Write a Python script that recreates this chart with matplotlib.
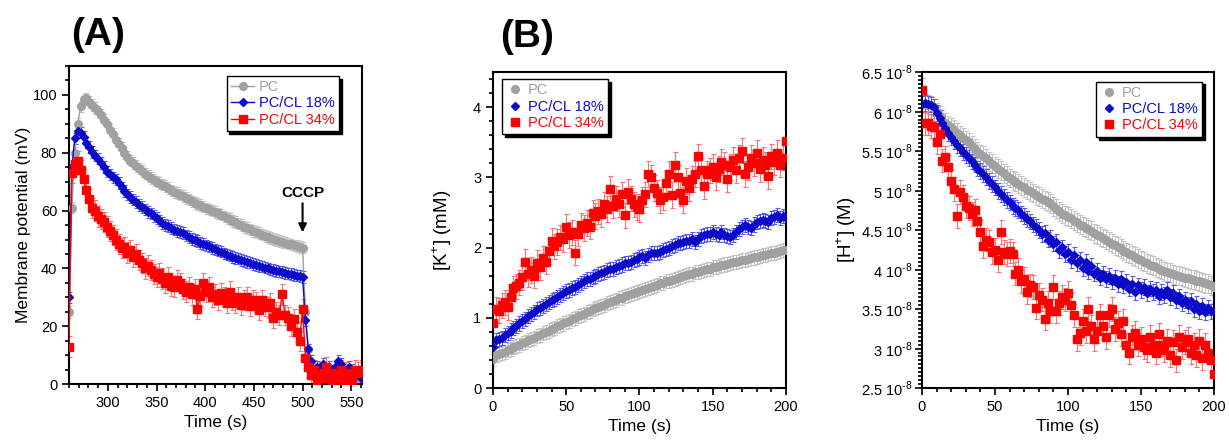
import numpy as np
import matplotlib
matplotlib.use("Agg")
from matplotlib import pyplot as plt
from matplotlib.ticker import MultipleLocator, FuncFormatter

plt.rcParams['font.family'] = ['Liberation Sans', 'DejaVu Sans']
plt.rcParams['mathtext.fontset'] = 'custom'
plt.rcParams['mathtext.rm'] = 'Liberation Sans'

# ---- Panel A: membrane potential (mV), sampled every 3 s from 260 to 560 s
time_a = np.arange(260, 561, 3)
mp_pc = [25, 61, 80, 90, 96, 98.5, 98.8, 97.5, 96.5, 95.5,
         94.3, 93, 91.5, 89.8, 88, 86.5, 84.5, 83, 81.6, 80,
         78.5, 77.3, 76.4, 75.5, 74.6, 73.6, 72.8, 72, 71.2, 70.6,
         70, 69.6, 69, 68.5, 67.8, 67, 66.5, 66, 65.5, 65,
         64.4, 63.9, 63.2, 62.7, 62.2, 61.9, 61.4, 60.8, 60.4, 60,
         59.5, 59, 58.6, 58, 57.5, 57, 56.5, 56, 55.5, 55,
         54.4, 54, 53.5, 53, 52.6, 52.2, 51.7, 51.3, 50.9, 50.6,
         50.2, 49.8, 49.5, 49.2, 48.9, 48.6, 48.3, 48, 47.8, 47.5,
         47.2, 25, 12, 7, 4, 3, 2, 4, 3, 2,
         1, 3, 4, 2, 1, 3, 2, 4, 2, 3, 2]
mp_cl18 = [30, 75, 85, 87.5, 87, 85.5, 83.5, 82, 80.3, 79,
           78, 76.5, 75, 73.5, 72.5, 71.5, 70.8, 69.5, 68, 66.8,
           65.6, 64.7, 63.8, 63, 62, 61.2, 60.4, 59.6, 59, 58.2,
           57.4, 56.6, 55.8, 55, 54.6, 54, 53.4, 53, 52.6, 52.2,
           51.4, 50.8, 50.2, 49.8, 49.4, 48.8, 48.4, 48, 47.6, 47,
           46.6, 46.2, 45.8, 45.2, 44.8, 44.4, 44, 43.7, 43.4, 43,
           42.6, 42.3, 42, 41.6, 41.2, 40.9, 40.6, 40.3, 40, 39.7,
           39.5, 39.2, 39, 38.8, 38.5, 38.2, 38, 37.8, 37.5, 37.3,
           37, 22, 12, 8, 5, 6, 4, 7, 5, 6,
           4, 6, 8, 7, 5, 3, 6, 5, 4, 3, 2]
mp_cl34 = [13, 73, 76, 77, 74, 71, 67, 64, 61, 60,
           58, 57, 56, 54.5, 53, 51.5, 50, 48.5, 47, 47.5,
           45.5, 46.5, 44, 45, 43, 42, 40, 41, 39.5, 38,
           37, 38.5, 36.5, 35, 37, 34, 33.5, 36, 35, 33,
           32, 33.5, 31, 33, 26, 30.5, 35, 32, 33.5, 30,
           31, 29, 31.5, 30, 28, 32, 29, 28, 30, 27.5,
           29, 30, 27, 29, 28.5, 25.5, 29, 27, 26.5, 28,
           23, 25, 24, 31, 24, 23, 20, 22.5, 18, 15,
           26, 9, 6, 3, 5, 1, 4, 2, 6, 3,
           1, 4, 2, 5, 1, 4, 3, 1, 5, 4, 5]
err_a = {'pc': 2.0, 'cl18': 2.0, 'cl34': 3.5}

# ---- Panels B and C: sampled every 2 s from 0 to 200 s
time_bc = np.arange(0, 201, 2)
k_pc = [0.42, 0.47, 0.49, 0.50, 0.52, 0.54, 0.56, 0.58, 0.60, 0.62,
        0.64, 0.66, 0.68, 0.70, 0.72, 0.74, 0.76, 0.78, 0.80, 0.82,
        0.84, 0.86, 0.88, 0.90, 0.92, 0.94, 0.96, 0.98, 1.00, 1.02,
        1.04, 1.06, 1.08, 1.10, 1.12, 1.14, 1.15, 1.17, 1.19, 1.21,
        1.23, 1.24, 1.26, 1.28, 1.29, 1.31, 1.32, 1.34, 1.35, 1.37,
        1.38, 1.40, 1.41, 1.43, 1.44, 1.46, 1.47, 1.49, 1.50, 1.52,
        1.53, 1.54, 1.56, 1.57, 1.58, 1.60, 1.61, 1.62, 1.63, 1.65,
        1.66, 1.67, 1.68, 1.69, 1.70, 1.72, 1.73, 1.74, 1.75, 1.76,
        1.77, 1.78, 1.79, 1.80, 1.81, 1.82, 1.83, 1.84, 1.85, 1.86,
        1.87, 1.88, 1.89, 1.90, 1.91, 1.92, 1.93, 1.94, 1.95, 1.96, 1.97]
k_cl18 = [0.58, 0.68, 0.70, 0.72, 0.75, 0.78, 0.82, 0.85, 0.88, 0.92,
          0.95, 0.98, 1.02, 1.05, 1.08, 1.12, 1.14, 1.17, 1.20, 1.22,
          1.25, 1.27, 1.30, 1.32, 1.35, 1.38, 1.40, 1.42, 1.44, 1.47,
          1.49, 1.52, 1.55, 1.56, 1.58, 1.60, 1.62, 1.64, 1.66, 1.68,
          1.69, 1.70, 1.72, 1.74, 1.76, 1.78, 1.78, 1.80, 1.82, 1.84,
          1.86, 1.88, 1.85, 1.90, 1.92, 1.93, 1.92, 1.94, 1.96, 1.98,
          2.00, 2.02, 2.04, 2.06, 2.07, 2.08, 2.10, 2.10, 2.12, 2.08,
          2.12, 2.16, 2.18, 2.20, 2.20, 2.22, 2.20, 2.18, 2.22, 2.18,
          2.16, 2.15, 2.18, 2.22, 2.26, 2.30, 2.32, 2.30, 2.28, 2.33,
          2.36, 2.38, 2.40, 2.38, 2.36, 2.42, 2.44, 2.46, 2.42, 2.45, 2.42]
k_cl34 = [0.92, 1.12, 1.10, 1.18, 1.22, 1.15, 1.30, 1.42, 1.45, 1.50,
          1.58, 1.80, 1.62, 1.68, 1.60, 1.78, 1.72, 1.85, 1.80, 1.95,
          2.10, 2.02, 2.08, 2.15, 2.12, 2.30, 2.18, 2.22, 1.93, 2.20,
          2.32, 2.28, 2.35, 2.30, 2.50, 2.45, 2.52, 2.48, 2.62, 2.55,
          2.84, 2.60, 2.70, 2.62, 2.76, 2.46, 2.80, 2.70, 2.62, 2.58,
          2.55, 2.68, 2.76, 3.05, 3.00, 2.85, 2.78, 2.68, 2.72, 2.92,
          3.05, 2.75, 3.18, 3.00, 2.78, 2.68, 2.95, 2.85, 2.98, 3.05,
          3.30, 3.10, 2.88, 3.05, 3.10, 3.15, 3.00, 3.12, 3.22, 3.18,
          2.98, 3.15, 3.25, 3.10, 3.28, 3.38, 3.05, 3.15, 3.28, 3.20,
          3.35, 3.12, 3.25, 3.18, 3.02, 3.30, 3.22, 3.35, 3.18, 3.28, 3.52]
err_b = {'pc': 0.10, 'cl18': 0.10, 'cl34': 0.18}

# [H+] in units of 1e-8 M
h_pc = [6.10, 6.10, 6.09, 6.08, 6.04, 5.99, 5.95, 5.90, 5.86, 5.83,
        5.80, 5.77, 5.73, 5.70, 5.67, 5.64, 5.61, 5.57, 5.53, 5.49,
        5.46, 5.44, 5.41, 5.37, 5.34, 5.31, 5.28, 5.25, 5.22, 5.19,
        5.16, 5.13, 5.11, 5.09, 5.06, 5.04, 5.01, 4.99, 4.97, 4.94,
        4.92, 4.90, 4.88, 4.86, 4.84, 4.80, 4.77, 4.74, 4.71, 4.69,
        4.67, 4.65, 4.62, 4.60, 4.57, 4.55, 4.53, 4.51, 4.49, 4.46,
        4.44, 4.42, 4.40, 4.38, 4.35, 4.33, 4.31, 4.29, 4.27, 4.24,
        4.22, 4.20, 4.18, 4.16, 4.14, 4.12, 4.10, 4.08, 4.06, 4.05,
        4.03, 4.01, 4.00, 3.98, 3.97, 3.96, 3.94, 3.93, 3.92, 3.91,
        3.90, 3.89, 3.88, 3.87, 3.86, 3.85, 3.84, 3.83, 3.82, 3.80, 3.78]
h_cl18 = [6.10, 6.11, 6.10, 6.09, 6.06, 5.98, 5.92, 5.85, 5.79, 5.73,
          5.68, 5.63, 5.58, 5.54, 5.49, 5.45, 5.41, 5.37, 5.33, 5.28,
          5.25, 5.21, 5.17, 5.12, 5.08, 5.04, 5.00, 4.96, 4.92, 4.88,
          4.85, 4.81, 4.78, 4.75, 4.71, 4.68, 4.64, 4.61, 4.57, 4.54,
          4.50, 4.45, 4.46, 4.38, 4.40, 4.33, 4.35, 4.25, 4.28, 4.20,
          4.22, 4.12, 4.18, 4.08, 4.12, 4.02, 4.10, 3.98, 4.05, 3.95,
          3.98, 3.90, 3.95, 3.88, 3.92, 3.85, 3.90, 3.82, 3.88, 3.80,
          3.84, 3.76, 3.82, 3.72, 3.80, 3.74, 3.78, 3.70, 3.76, 3.72,
          3.74, 3.66, 3.72, 3.68, 3.74, 3.65, 3.70, 3.62, 3.66, 3.58,
          3.62, 3.55, 3.60, 3.50, 3.56, 3.48, 3.54, 3.46, 3.52, 3.47, 3.48]
h_cl34 = [6.28, 5.85, 5.86, 5.82, 5.80, 5.62, 5.72, 5.38, 5.42, 5.30,
          5.12, 5.02, 4.68, 4.98, 4.92, 4.80, 4.78, 4.70, 4.75, 4.62,
          4.48, 4.30, 4.38, 4.35, 4.22, 4.25, 4.12, 4.48, 4.22, 4.20,
          4.24, 4.20, 3.95, 4.00, 3.85, 3.88, 3.72, 3.80, 3.78, 3.52,
          3.68, 3.62, 3.38, 3.58, 3.48, 3.78, 3.48, 3.58, 3.65, 3.62,
          3.70, 3.55, 3.42, 3.12, 3.20, 3.35, 3.22, 3.50, 3.28, 3.12,
          3.22, 3.42, 3.28, 3.15, 3.42, 3.50, 3.25, 3.32, 3.18, 3.35,
          3.05, 2.95, 3.15, 3.20, 3.05, 3.12, 3.02, 2.98, 3.15, 3.05,
          2.95, 3.18, 3.05, 2.98, 3.10, 2.92, 3.08, 2.85, 3.15, 3.02,
          3.08, 3.12, 2.95, 3.05, 2.92, 3.10, 2.88, 3.05, 2.95, 2.85, 2.68]
err_c = {'pc': 0.12, 'cl18': 0.10, 'cl34': 0.15}
H_UNIT = 1e-8

labels = {'pc': 'PC', 'cl18': 'PC/CL 18%', 'cl34': 'PC/CL 34%'}
colors = {'pc': '#a0a0a0', 'cl18': '#0a0ac8', 'cl34': '#ff0000'}
ecolors = {'pc': '#c4c4c4', 'cl18': '#5a5aee', 'cl34': '#ff7070'}
markers = {'pc': ('o', 5.5), 'cl18': ('D', 4), 'cl34': ('s', 5.5)}


def style_axes(ax):
    for sp in ax.spines.values():
        sp.set_linewidth(1.5)
    ax.tick_params(which='both', direction='out', top=False, right=False,
                   labelsize=10.5, width=1.2)
    ax.tick_params(which='major', length=5)
    ax.tick_params(which='minor', length=3)
    ax.set_xlabel('Time (s)', fontsize=12.5)


def draw(ax, t, series, errs, with_line, scale=1.0):
    for key in ['pc', 'cl18', 'cl34']:
        y = np.array(series[key]) * scale
        m, ms = markers[key]
        ax.errorbar(t, y, yerr=errs[key] * scale, fmt='none', ecolor=ecolors[key],
                    elinewidth=0.8, capsize=1.8, capthick=0.8, zorder=2)
        ax.plot(t, y, marker=m, ms=ms, color=colors[key], mec=colors[key],
                lw=1.0 if with_line else 0, ls='-' if with_line else 'none',
                label=labels[key], zorder=3)


def legend(ax, loc, anchor, handlelen):
    leg = ax.legend(loc=loc, bbox_to_anchor=anchor, fontsize=10.5, frameon=True,
                    fancybox=False, edgecolor='black', framealpha=1,
                    shadow={'color': 'black', 'alpha': 1}, handlelength=handlelen,
                    handletextpad=0.3, borderpad=0.3, labelspacing=0.15,
                    borderaxespad=0)
    leg.get_frame().set_linewidth(1.0)
    for txt, key in zip(leg.get_texts(), ['pc', 'cl18', 'cl34']):
        txt.set_color(colors[key])


def h_label(v, pos):
    return '%g 10$^{\\text{-}8}$' % round(v / H_UNIT, 2)


fig = plt.figure(figsize=(12.29, 4.4), dpi=100)
ax_a = fig.add_axes([0.0561, 0.127, 0.2384, 0.723])
ax_b = fig.add_axes([0.4011, 0.118, 0.2384, 0.718])
ax_c = fig.add_axes([0.7502, 0.118, 0.2376, 0.718])

# Panel A
draw(ax_a, time_a, {'pc': mp_pc, 'cl18': mp_cl18, 'cl34': mp_cl34}, err_a, True)
ax_a.set_xlim(260, 561)
ax_a.set_ylim(0, 110)
ax_a.xaxis.set_major_locator(MultipleLocator(50))
ax_a.xaxis.set_minor_locator(MultipleLocator(10))
ax_a.yaxis.set_major_locator(MultipleLocator(20))
ax_a.yaxis.set_minor_locator(MultipleLocator(5))
ax_a.set_xticks([300, 350, 400, 450, 500, 550])
style_axes(ax_a)
ax_a.set_ylabel('Membrane potential (mV)', fontsize=12.5)
ax_a.yaxis.set_label_coords(-0.13, 0.5)
ax_a.annotate('CCCP', xy=(500, 52.5), xytext=(500, 63.5), ha='center', va='bottom',
              fontsize=11, fontweight='bold',
              arrowprops=dict(arrowstyle='-|>', color='black', lw=1.5,
                              mutation_scale=12, shrinkA=0, shrinkB=0))
legend(ax_a, 'upper right', (0.921, 0.969), 1.6)
fig.text(0.058, 0.92, '(A)', fontsize=28, fontweight='bold', va='center')

# Panel B
draw(ax_b, time_bc, {'pc': k_pc, 'cl18': k_cl18, 'cl34': k_cl34}, err_b, False)
ax_b.set_xlim(0, 200)
ax_b.set_ylim(0, 4.5)
ax_b.xaxis.set_major_locator(MultipleLocator(50))
ax_b.xaxis.set_minor_locator(MultipleLocator(10))
ax_b.yaxis.set_major_locator(MultipleLocator(1))
ax_b.yaxis.set_minor_locator(MultipleLocator(0.2))
style_axes(ax_b)
ax_b.set_ylabel(r'[K$^{+}$] (mM)', fontsize=13.5)
ax_b.yaxis.set_label_coords(-0.134, 0.5)
legend(ax_b, 'upper left', (0.03, 0.978), 1.2)
fig.text(0.407, 0.915, '(B)', fontsize=28, fontweight='bold', va='center')

# Panel C
draw(ax_c, time_bc, {'pc': h_pc, 'cl18': h_cl18, 'cl34': h_cl34}, err_c, False, H_UNIT)
ax_c.set_xlim(0, 200)
ax_c.set_ylim(2.5e-8, 6.5e-8)
ax_c.xaxis.set_major_locator(MultipleLocator(50))
ax_c.xaxis.set_minor_locator(MultipleLocator(10))
ax_c.yaxis.set_major_locator(MultipleLocator(0.5e-8))
ax_c.yaxis.set_minor_locator(MultipleLocator(0.05e-8))
ax_c.yaxis.set_major_formatter(FuncFormatter(h_label))
style_axes(ax_c)
ax_c.tick_params(axis='y', pad=2)
ax_c.set_ylabel(r'[H$^{+}$] (M)', fontsize=13.5)
ax_c.yaxis.set_label_coords(-0.22, 0.5)
legend(ax_c, 'upper right', (0.96, 0.97), 1.2)

fig.savefig('out.png', dpi=100)
